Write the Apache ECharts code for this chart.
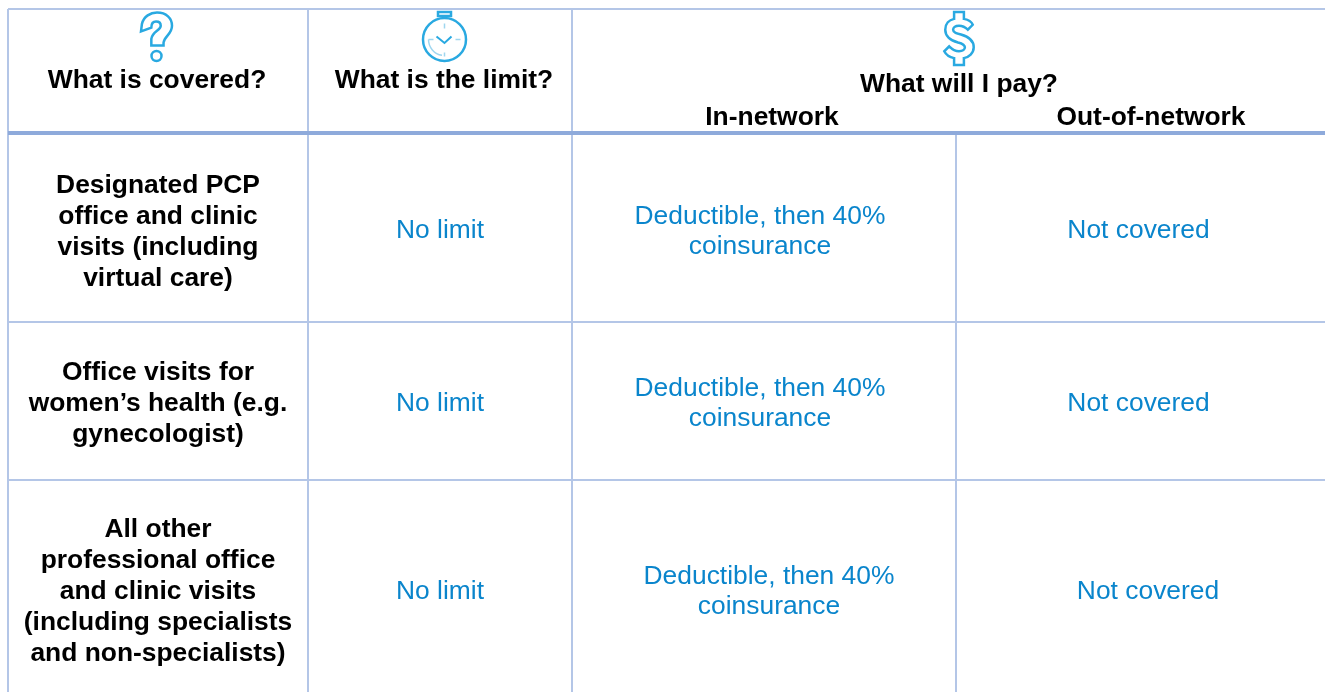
<!DOCTYPE html>
<html>
<head>
<meta charset="utf-8">
<style>
  html, body { margin: 0; padding: 0; background: #fff; }
  #main { width: 1325px; height: 692px; }
</style>
<script src="https://cdn.jsdelivr.net/npm/echarts@6/dist/echarts.min.js"></script>
</head>
<body>
<div id="main"></div>
<script>
var chart = echarts.init(document.getElementById('main'));

// table text
var headers = ['What is covered?', 'What is the limit?', 'What will I pay?', 'In-network', 'Out-of-network'];
var rowLabels = [
  'Designated PCP\noffice and clinic\nvisits (including\nvirtual care)',
  'Office visits for\nwomen\u2019s health (e.g.\ngynecologist)',
  'All other\nprofessional office\nand clinic visits\n(including specialists\nand non-specialists)'
];
var limitValues = ['No limit', 'No limit', 'No limit'];
var inNetworkValues = ['Deductible, then 40%\ncoinsurance', 'Deductible, then 40%\ncoinsurance', 'Deductible, then 40%\ncoinsurance'];
var outNetworkValues = ['Not covered', 'Not covered', 'Not covered'];

// page layout, in axis units (1 unit = 1 px)
var colEdges = [8, 308, 572, 956];
var rowEdges = [133, 322, 480];
var topEdge = 9;
var rightEdge = 1325;
var bottomEdge = 692;

var ruleColor = '#b4c6e7';
var headRuleColor = '#8eaadb';
var iconColor = '#29a9e1';
var iconLight = '#9fd6ef';
var valueColor = '#0a85cc';

// rules: [x1, y1, x2, y2, width, color]
var rules = [
  [colEdges[0], topEdge, rightEdge, topEdge, 2, ruleColor],
  [colEdges[0], topEdge, colEdges[0], bottomEdge, 2, ruleColor],
  [colEdges[1], topEdge, colEdges[1], bottomEdge, 2, ruleColor],
  [colEdges[2], topEdge, colEdges[2], bottomEdge, 2, ruleColor],
  [colEdges[3], rowEdges[0], colEdges[3], bottomEdge, 2, ruleColor],
  [colEdges[0], rowEdges[1], rightEdge, rowEdges[1], 2, ruleColor],
  [colEdges[0], rowEdges[2], rightEdge, rowEdges[2], 2, ruleColor],
  [colEdges[0], rowEdges[0], rightEdge, rowEdges[0], 4, headRuleColor]
];

// labels: [text, x, y, kind]
var labels = [
  [headers[0], 157, 81, 'head'],
  [headers[1], 444, 81, 'head'],
  [headers[2], 959, 85, 'head'],
  [headers[3], 772, 117.5, 'head'],
  [headers[4], 1151, 117.5, 'head'],
  [rowLabels[0], 158, 232.5, 'row'],
  [rowLabels[1], 158, 404, 'row'],
  [rowLabels[2], 158, 592, 'row'],
  [limitValues[0], 440, 231, 'value'],
  [limitValues[1], 440, 404, 'value'],
  [limitValues[2], 440, 592, 'value'],
  [inNetworkValues[0], 760, 232, 'value'],
  [inNetworkValues[1], 760, 404, 'value'],
  [inNetworkValues[2], 769, 592, 'value'],
  [outNetworkValues[0], 1138.5, 231, 'value'],
  [outNetworkValues[1], 1138.5, 404, 'value'],
  [outNetworkValues[2], 1148, 592, 'value']
];

var labelStyles = {
  head: { font: 'bold 26.4px "Liberation Sans"', lineHeight: 31, fill: '#000' },
  row: { font: 'bold 26.4px "Liberation Sans"', lineHeight: 31, fill: '#000' },
  value: { font: '26.4px "Liberation Sans"', lineHeight: 30, fill: valueColor }
};

function iconStyle(w) {
  return { fill: 'none', stroke: iconColor, lineWidth: w || 2.5 };
}

// icon outlines, positioned from their top-left corner
function questionIcon(c) {
  return [{
    type: 'path',
    shape: {
      pathData: 'M1 12 C3 4 10 0 17 0 C27 0 33 6 33 14 C33 23 25 25 24 32 L24 35 L11 35 L11 28 C12 20 21 19 21 14 C21 11 19 9.5 16 9.5 C13 9.5 11 12 11 16 L0 20 Z',
      x: c[0] + 1, y: c[1] + 1, width: 31, height: 34
    },
    style: iconStyle()
  }, {
    type: 'circle',
    shape: { cx: c[0] + 16.5, cy: c[1] + 45, r: 5 },
    style: iconStyle()
  }];
}

function watchIcon(c) {
  var cx = c[0] + 21.5;
  var cy = c[1] + 28.5;
  var out = [
    { type: 'circle', shape: { cx: cx, cy: cy, r: 21.5 }, style: iconStyle() },
    { type: 'rect', shape: { x: cx - 6.5, y: c[1] + 1, width: 13, height: 4 }, style: iconStyle() },
    { type: 'line', shape: { x1: cx, y1: c[1] + 5, x2: cx, y2: c[1] + 7 }, style: iconStyle(4) },
    { type: 'polyline', shape: { points: [[cx - 8, cy - 3], [cx, cy + 3.5], [cx + 7, cy - 3]] }, style: iconStyle(2) },
    { type: 'arc', shape: { cx: cx, cy: cy, r: 16, startAngle: Math.PI * 0.55, endAngle: Math.PI, clockwise: true }, style: { fill: 'none', stroke: iconLight, lineWidth: 1.5 } }
  ];
  [[0, -16, 0, -11], [0, 13, 0, 17], [-16, 0, -11, 0], [11, 0, 16, 0]].forEach(function (t) {
    out.push({
      type: 'line',
      shape: { x1: cx + t[0], y1: cy + t[1], x2: cx + t[2], y2: cy + t[3] },
      style: { stroke: iconLight, lineWidth: 1.5 }
    });
  });
  return out;
}

function dollarIcon(c) {
  return [{
    type: 'path',
    shape: {
      pathData: 'M10 0 L20 0 L20 7 C25 8 28 10 29 13 L24 18 C21 15 18 14 15 14 C11 14 9 16 9 18 C9 21 13 22 17 23 C24 25 30 28 30 36 C30 42 25 46 20 47 L20 54 L10 54 L10 47 C5 46 2 44 0 40 L5 35 C8 38 11 40 15 40 C19 40 21 38 21 36 C21 33 18 32 14 31 C7 29 1 26 1 18 C1 12 5 8 10 7 Z',
      x: c[0] + 1, y: c[1] + 1, width: 30, height: 53
    },
    style: iconStyle()
  }];
}

// icons: [draw function, left, top]
var icons = [
  [questionIcon, 140, 11],
  [watchIcon, 423, 11],
  [dollarIcon, 943, 11]
];

var option = {
  animation: false,
  grid: { left: 0, right: 0, top: 0, bottom: 0 },
  xAxis: { type: 'value', min: 0, max: 1325, show: false },
  yAxis: { type: 'value', min: 0, max: 692, inverse: true, show: false },
  series: [{
    type: 'custom',
    coordinateSystem: 'cartesian2d',
    silent: true,
    data: rules,
    encode: { x: 0, y: 1 },
    renderItem: function (params, api) {
      var r = rules[params.dataIndex];
      var a = api.coord([r[0], r[1]]);
      var b = api.coord([r[2], r[3]]);
      return {
        type: 'line',
        shape: { x1: a[0], y1: a[1], x2: b[0], y2: b[1] },
        style: { stroke: r[5], lineWidth: r[4] }
      };
    }
  }, {
    type: 'custom',
    coordinateSystem: 'cartesian2d',
    silent: true,
    data: icons.map(function (d) { return [d[1], d[2]]; }),
    encode: { x: 0, y: 1 },
    renderItem: function (params, api) {
      var d = icons[params.dataIndex];
      return { type: 'group', children: d[0](api.coord([d[1], d[2]])) };
    }
  }, {
    type: 'custom',
    coordinateSystem: 'cartesian2d',
    silent: true,
    data: labels.map(function (d) { return [d[1], d[2]]; }),
    encode: { x: 0, y: 1 },
    renderItem: function (params, api) {
      var d = labels[params.dataIndex];
      var c = api.coord([d[1], d[2]]);
      var s = labelStyles[d[3]];
      return {
        type: 'text',
        x: c[0],
        y: c[1],
        style: {
          text: d[0],
          font: s.font,
          lineHeight: s.lineHeight,
          fill: s.fill,
          align: 'center',
          verticalAlign: 'middle'
        }
      };
    }
  }]
};
chart.setOption(option);
</script>
</body>
</html>
